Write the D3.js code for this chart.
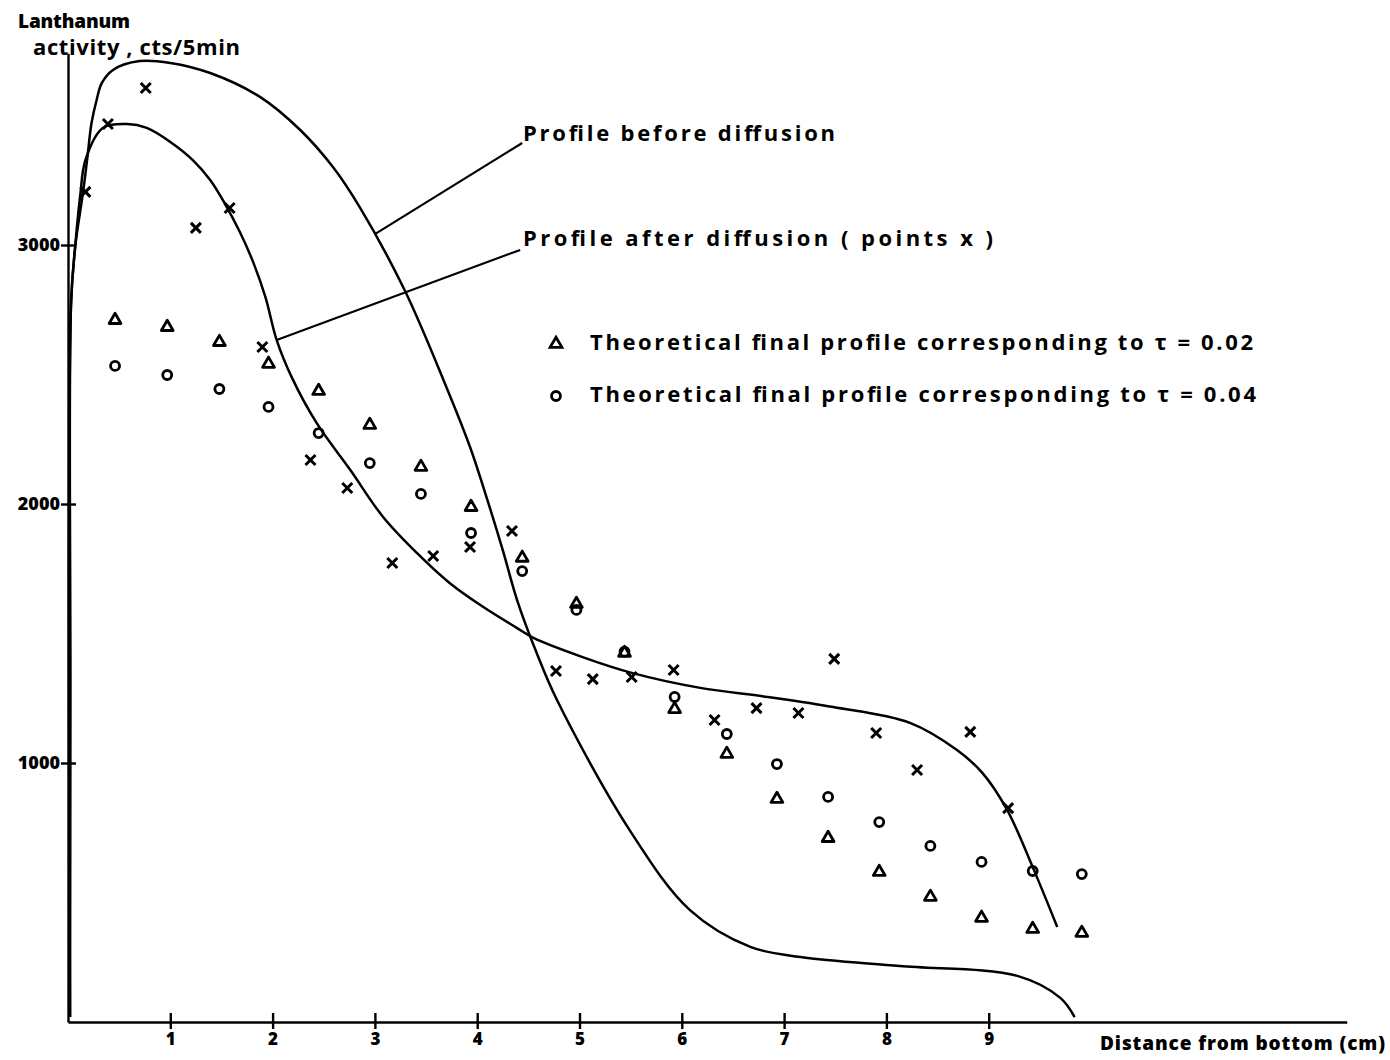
<!DOCTYPE html>
<html>
<head>
<script src="https://cdn.jsdelivr.net/npm/d3@7"></script>
<style>
  body { margin: 0; background: #fff; }
  text { font-family: "Open Sans", "DejaVu Sans", sans-serif; fill: #000; }
</style>
</head>
<body>
<div id="chart"></div>
<script>

// distance from bottom (cm) and lanthanum activity (cts/5min)
const beforeX = [0.02, 0.024, 0.03, 0.07, 0.15, 0.19, 0.23, 0.28, 0.33, 0.44, 0.70, 1.00, 1.39, 1.88, 2.27, 2.59, 2.85, 3.29, 3.67, 3.93, 4.10, 4.25, 4.39, 4.57, 4.78, 5.49, 6.08, 6.67, 7.16, 8.13, 9.28, 9.70, 9.84];
const beforeY = [19, 1243, 2776, 2992, 3212, 3340, 3471, 3560, 3625, 3676, 3710, 3703, 3664, 3571, 3444, 3301, 3147, 2826, 2479, 2220, 2015, 1822, 1629, 1436, 1243, 741, 432, 290, 251, 216, 178, 93, 19];

const afterX = [0.02, 0.03, 0.07, 0.12, 0.17, 0.34, 0.58, 0.77, 1.00, 1.22, 1.39, 1.53, 1.68, 1.81, 1.93, 2.04, 2.19, 2.43, 2.76, 3.08, 3.41, 3.73, 4.06, 4.39, 4.55, 5.03, 5.52, 6.18, 6.84, 7.48, 8.23, 8.69, 8.94, 9.18, 9.43, 9.67];
const afterY = [19, 2776, 2992, 3193, 3328, 3452, 3467, 3452, 3398, 3328, 3251, 3162, 3050, 2934, 2799, 2633, 2487, 2313, 2131, 1950, 1811, 1695, 1602, 1521, 1483, 1409, 1347, 1290, 1255, 1216, 1155, 1050, 961, 819, 598, 367];

// measured points after diffusion (x)
const crossX = [0.17, 0.39, 0.76, 1.25, 1.58, 1.90, 2.37, 2.73, 3.17, 3.57, 3.93, 4.34, 4.77, 5.13, 5.51, 5.92, 6.32, 6.73, 7.14, 7.49, 7.90, 8.30, 8.82, 9.19];
const crossY = [3205, 3467, 3606, 3066, 3143, 2606, 2170, 2062, 1772, 1799, 1834, 1896, 1355, 1324, 1332, 1359, 1166, 1212, 1193, 1402, 1116, 973, 1120, 826];

// theoretical points, tau = 0.02 (triangles) and tau = 0.04 (circles)
const theoX = [0.46, 0.97, 1.48, 1.96, 2.45, 2.95, 3.45, 3.94, 4.44, 4.97, 5.44, 5.93, 6.44, 6.93, 7.43, 7.93, 8.43, 8.93, 9.43, 9.91];
const triY = [2710, 2683, 2625, 2541, 2436, 2305, 2143, 1988, 1792, 1614, 1425, 1208, 1035, 861, 710, 579, 483, 402, 359, 344];
const circY = [2533, 2498, 2444, 2375, 2274, 2158, 2039, 1888, 1741, 1591, 1430, 1255, 1112, 996, 869, 772, 680, 618, 583, 571];

const xTicks = [1, 2, 3, 4, 5, 6, 7, 8, 9];
const yTicks = [1000, 2000, 3000];

// leader lines from the curves to their labels, in data units
const leaderBefore = [[3.00, 3042], [4.44, 3394]];
const leaderAfter = [[2.04, 2633], [4.42, 2981]];

const W = 1390, H = 1060;
const svg = d3.select("#chart").append("svg")
    .attr("width", W).attr("height", H)
    .style("background-color", "white");

const x = d3.scaleLinear().domain([0, 12.5]).range([68, 68 + 12.5 * 102.3]);
const y = d3.scaleLinear().domain([0, 3740]).range([1022, 1022 - 3740 * 0.259]);

// axes
const xAxis = svg.append("g")
    .attr("transform", `translate(0,${y(0)})`)
    .call(d3.axisBottom(x).tickValues(xTicks).tickSize(0).tickSizeOuter(0));
xAxis.select(".domain").attr("stroke", "#000").attr("stroke-width", 2.6);
xAxis.selectAll(".tick line").attr("y1", -9).attr("y2", 7).attr("stroke", "#000").attr("stroke-width", 2.4);
xAxis.selectAll(".tick text")
    .attr("y", 11).attr("dy", "0.71em")
    .style("font-size", "17px").style("font-weight", "800")
    .style("font-family", '"Open Sans", sans-serif');

const yAxis = svg.append("g")
    .attr("transform", `translate(${x(0)},0)`)
    .call(d3.axisLeft(y).tickValues(yTicks).tickFormat(d3.format("d")).tickSize(0).tickSizeOuter(0));
yAxis.select(".domain").attr("stroke", "#000").attr("stroke-width", 2.4);
yAxis.selectAll(".tick line").attr("x1", -7).attr("x2", 8).attr("stroke", "#000").attr("stroke-width", 2.4);
yAxis.selectAll(".tick text")
    .attr("x", -8)
    .style("font-size", "18px").style("font-weight", "800")
    .style("font-family", '"Open Sans", sans-serif');

// curves
const line = d3.line()
    .x(d => x(d[0])).y(d => y(d[1]))
    .curve(d3.curveCatmullRom.alpha(0.5));

svg.append("path")
    .attr("d", line(d3.zip(beforeX, beforeY)))
    .attr("fill", "none").attr("stroke", "#000").attr("stroke-width", 2.5);
svg.append("path")
    .attr("d", line(d3.zip(afterX, afterY)))
    .attr("fill", "none").attr("stroke", "#000").attr("stroke-width", 2.5);

const straight = d3.line().x(d => x(d[0])).y(d => y(d[1]));
[leaderBefore, leaderAfter].forEach(l => {
    svg.append("path").attr("d", straight(l))
        .attr("fill", "none").attr("stroke", "#000").attr("stroke-width", 2.2);
});

// markers
const crossPath = s => `M${-s},${-s}L${s},${s}M${s},${-s}L${-s},${s}`;
svg.selectAll("path.cross")
    .data(d3.zip(crossX, crossY))
    .enter().append("path")
    .attr("class", "cross")
    .attr("transform", d => `translate(${x(d[0])},${y(d[1])})`)
    .attr("d", crossPath(5))
    .attr("stroke", "#000").attr("stroke-width", 3).attr("fill", "none");

const tri = d3.symbol().type(d3.symbolTriangle).size(60);
svg.selectAll("path.tri")
    .data(d3.zip(theoX, triY))
    .enter().append("path")
    .attr("class", "tri")
    .attr("transform", d => `translate(${x(d[0])},${y(d[1])})`)
    .attr("d", tri())
    .attr("stroke", "#000").attr("stroke-width", 2.8).attr("fill", "none")
    .attr("stroke-linejoin", "round");

svg.selectAll("circle.circ")
    .data(d3.zip(theoX, circY))
    .enter().append("circle")
    .attr("class", "circ")
    .attr("cx", d => x(d[0])).attr("cy", d => y(d[1]))
    .attr("r", 4.5)
    .attr("stroke", "#000").attr("stroke-width", 2.8).attr("fill", "none");

// texts
const label = (t, px, py, size, len, weight) => {
    const el = svg.append("text")
        .attr("x", px).attr("y", py)
        .style("font-size", size + "px")
        .style("font-weight", weight || 700)
        .text(t);
    if (len) el.attr("textLength", len).attr("lengthAdjust", "spacing");
    return el;
};

label("Lanthanum", 18, 28, 19, 112, 800);
label("activity , cts/5min", 33, 55, 22, 207, 700);
label("Profile   before   diffusion", 523, 141, 22, 312);
label("Profile  after  diffusion  ( points  x )", 523, 246, 22, 470);
label("Theoretical  final  profile  corresponding  to   \u03c4 = 0.02", 590, 350, 22, 663);
label("Theoretical  final  profile  corresponding  to   \u03c4 = 0.04", 590, 402, 22, 666);
label("Distance from bottom (cm)", 1100, 1050, 19, 285, 800);

// legend symbols
svg.append("path")
    .attr("transform", "translate(556,344)")
    .attr("d", tri())
    .attr("stroke", "#000").attr("stroke-width", 2.8).attr("fill", "none");
svg.append("circle")
    .attr("cx", 556).attr("cy", 396).attr("r", 4.5)
    .attr("stroke", "#000").attr("stroke-width", 2.8).attr("fill", "none");

</script>
</body>
</html>
